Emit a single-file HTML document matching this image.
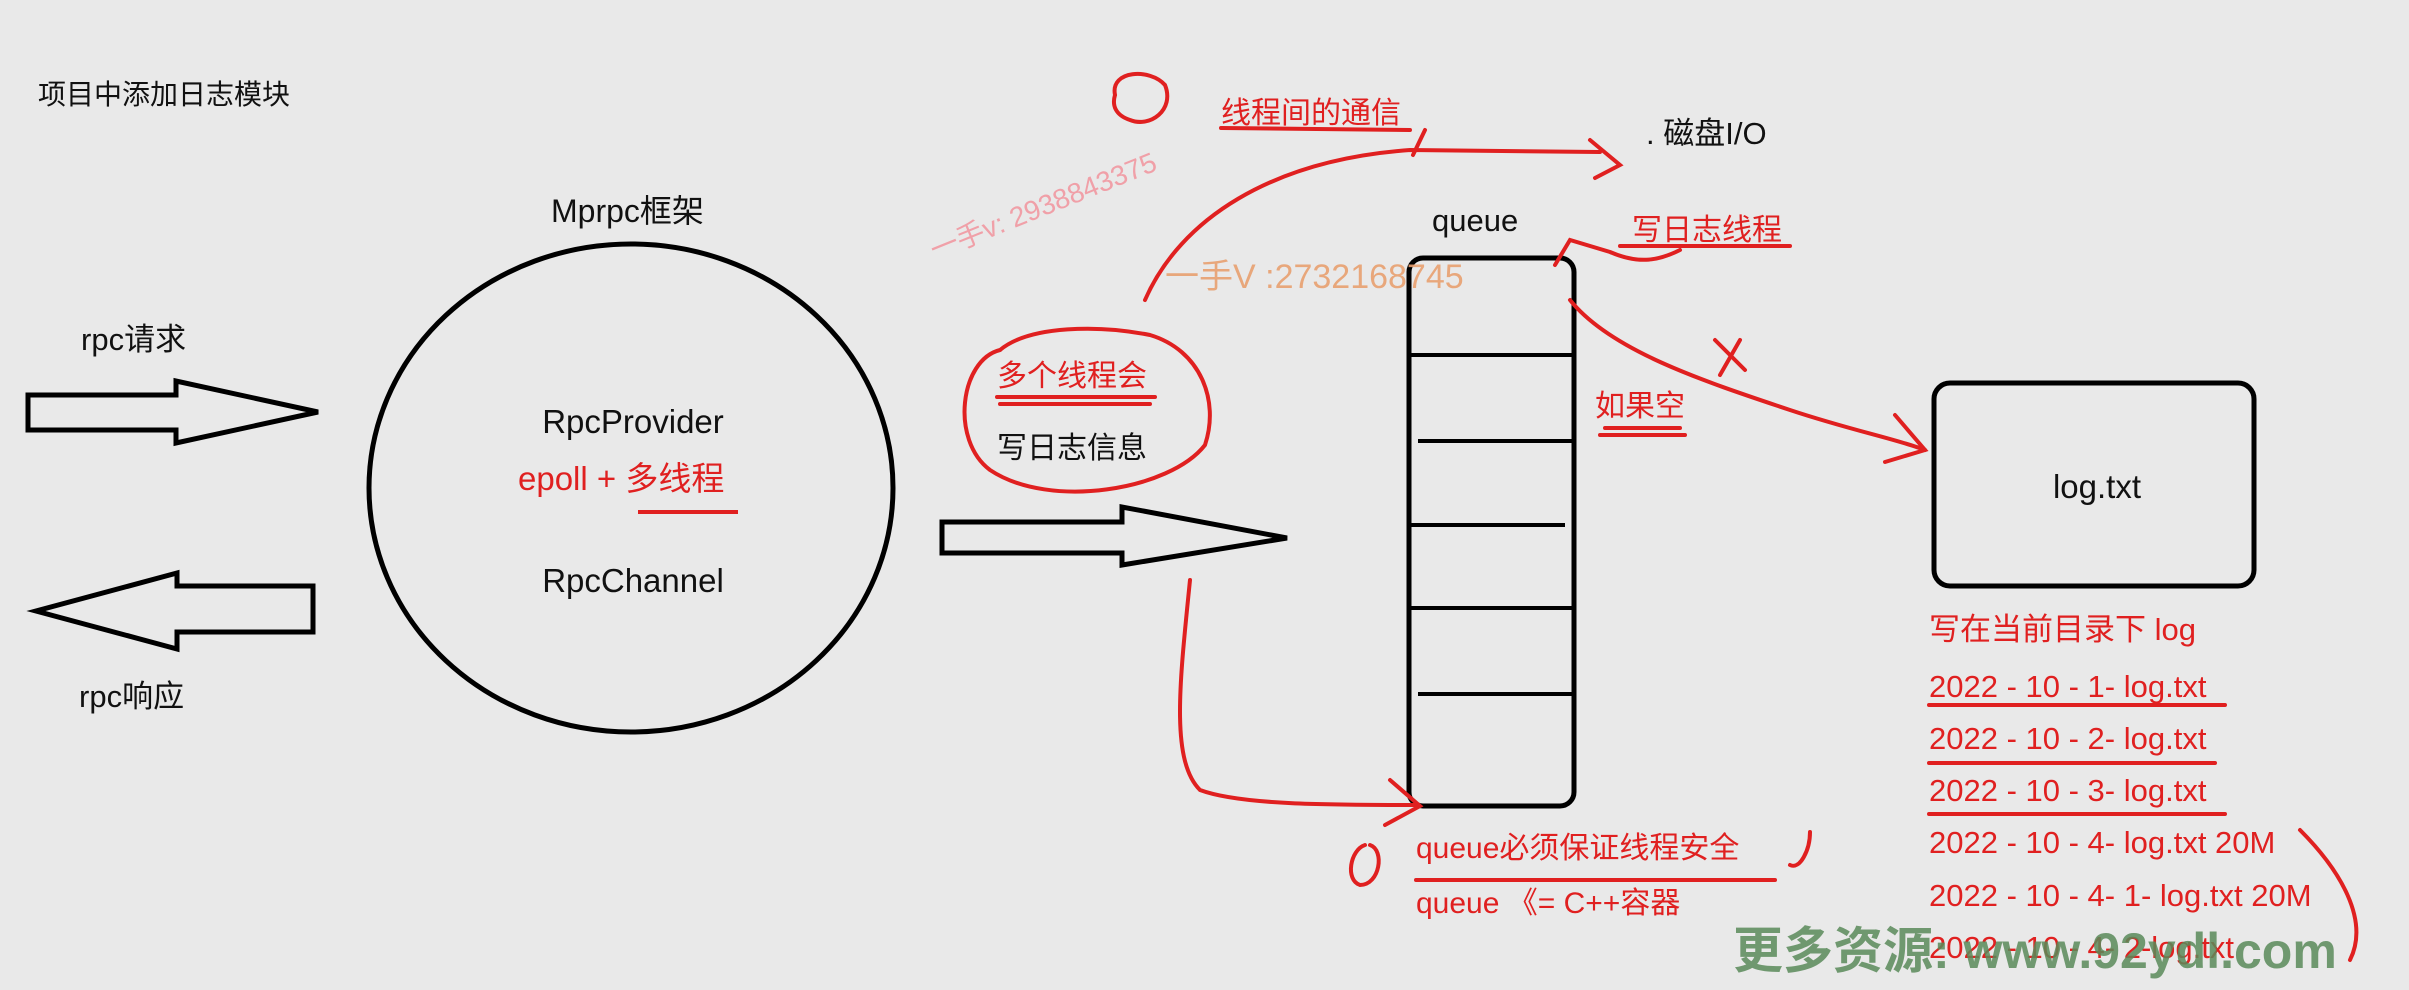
<!DOCTYPE html>
<html><head><meta charset="utf-8"><style>
html,body{margin:0;padding:0;background:#e9e9e9;}
svg{display:block}
text{font-family:"Liberation Sans","Noto Sans CJK SC",sans-serif;}
</style></head><body>
<svg width="2409" height="990" viewBox="0 0 2409 990" xmlns="http://www.w3.org/2000/svg">
<rect width="2409" height="990" fill="#e9e9e9"/>
<g font-size="28" fill="#111">
<text x="38" y="104">项目中添加日志模块</text>
<text x="551" y="222" font-size="32">Mprpc框架</text>
<text x="81" y="350" font-size="31">rpc请求</text>
<text x="79" y="707" font-size="31">rpc响应</text>
</g>
<ellipse cx="631" cy="488" rx="262" ry="244" fill="none" stroke="#000" stroke-width="5"/>
<g font-size="33" text-anchor="middle" fill="#111">
<text x="633" y="433">RpcProvider</text>
<text x="633" y="592">RpcChannel</text>
</g>
<text x="518" y="490" font-size="33" fill="#e02020">epoll + 多线程</text>
<line x1="638" y1="512" x2="738" y2="512" stroke="#e02020" stroke-width="4"/>
<polygon points="28,395 176,395 176,381 318,412 176,443 176,430 28,430" fill="none" stroke="#000" stroke-width="5"/>
<polygon points="313,586 177,586 177,573 36,611 177,649 177,632 313,632" fill="none" stroke="#000" stroke-width="5"/>
<polygon points="942,522 1122,522 1122,507 1287,538 1122,565 1122,553 942,553" fill="none" stroke="#000" stroke-width="5"/>
<rect x="1409" y="258" width="165" height="548" rx="14" fill="none" stroke="#000" stroke-width="5"/>
<g stroke="#000" stroke-width="4">
<line x1="1409" y1="355" x2="1574" y2="355"/>
<line x1="1418" y1="441" x2="1574" y2="441"/>
<line x1="1409" y1="525" x2="1565" y2="525"/>
<line x1="1409" y1="608" x2="1574" y2="608"/>
<line x1="1418" y1="694" x2="1574" y2="694"/>
</g>
<text x="1432" y="231" font-size="31" fill="#111">queue</text>
<text x="1646" y="144" font-size="31" fill="#111">. 磁盘I/O</text>
<rect x="1934" y="383" width="320" height="203" rx="16" fill="none" stroke="#000" stroke-width="5"/>
<text x="2097" y="498" font-size="33" text-anchor="middle" fill="#111">log.txt</text>
<g fill="#e02020" font-size="30">
<text x="1221" y="123">线程间的通信</text>
<text x="1632" y="240">写日志线程</text>
<text x="1595" y="416">如果空</text>
<text x="997" y="386">多个线程会</text>
<text x="1416" y="858">queue必须保证线程安全</text>
<text x="1416" y="913">queue 《=  C++容器</text>
</g>
<text x="997" y="458" font-size="30" fill="#111">写日志信息</text>
<g fill="#e02020" font-size="31">
<text x="1929" y="640">写在当前目录下 log</text>
<text x="1929" y="697">2022 - 10 - 1- log.txt</text>
<text x="1929" y="749">2022 - 10 - 2- log.txt</text>
<text x="1929" y="801">2022 - 10 - 3- log.txt</text>
<text x="1929" y="853">2022 - 10 - 4- log.txt  20M</text>
<text x="1929" y="906">2022 - 10 - 4- 1- log.txt  20M</text>
<text x="1929" y="958">2022 - 10 - 4- 2-log.txt</text>
</g>
<g fill="none" stroke="#e02020" stroke-width="4" stroke-linecap="round">
<path d="M1221 128 L1410 130"/>
<path d="M1620 246 L1790 246"/>
<path d="M1605 428 L1680 428 M1600 435 L1685 435"/>
<path d="M997 397 L1155 397 M1000 404 L1150 404"/>
<path d="M1416 880 L1775 880"/>
<path d="M1929 705 L2225 705 M1929 763 L2215 763 M1929 814 L2225 814"/>
<path d="M1000 350 C960 360 950 440 990 470 C1050 510 1170 490 1205 445 C1220 400 1200 350 1150 335 C1100 325 1030 325 1000 350"/>
<path d="M1145 300 C1180 220 1270 160 1410 150 L1600 152"/>
<path d="M1590 140 L1620 165 L1595 178"/>
<path d="M1413 155 L1425 130"/>
<path d="M1570 300 C1610 350 1700 380 1790 410 C1850 430 1900 440 1925 450"/>
<path d="M1895 415 L1925 450 L1885 462"/>
<path d="M1715 340 L1745 370 M1740 340 L1720 375"/>
<path d="M1555 265 L1570 240 L1610 252 C1640 265 1660 260 1680 250"/>
<path d="M1190 580 C1180 680 1170 760 1200 790 C1240 805 1330 805 1415 805"/>
<path d="M1390 780 L1420 806 L1385 825"/>
<path d="M1365 845 C1350 850 1345 880 1360 885 C1380 885 1385 850 1370 845"/>
<path d="M1810 832 C1810 850 1800 870 1790 865"/>
<path d="M1115 95 C1110 70 1150 68 1165 85 C1175 110 1150 128 1130 120 C1115 115 1112 105 1115 95"/>
<path d="M2300 830 C2340 870 2370 920 2350 960"/>
</g>
<text x="0" y="0" font-size="28" fill="#f0a0a8" transform="translate(935 260) rotate(-22)">一手v: 2938843375</text>
<text x="1165" y="288" font-size="34" fill="#e8a070" opacity="0.9">一手V :2732168745</text>
<text x="1733" y="968" font-size="50" font-weight="bold" fill="#5a8a5a" opacity="0.85" font-family="Liberation Mono,Noto Sans CJK SC,monospace">更多资源: www.92ydl.com</text>
</svg>
</body></html>
